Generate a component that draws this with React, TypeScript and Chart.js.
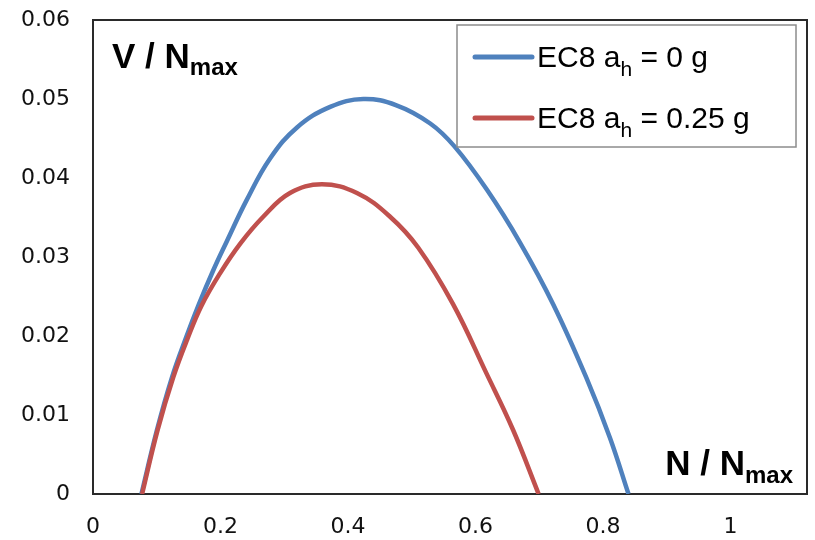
import React, { useEffect, useRef } from "react";
import { Chart, registerables } from "chart.js";

Chart.register(...registerables);

// ---- data ----
const seriesNames = ["EC8 a_h = 0 g", "EC8 a_h = 0.25 g"];
const legendMain = ["EC8 a", "EC8 a"];
const legendSub = ["h", "h"];
const legendTail = [" = 0 g", " = 0.25 g"];

const blueN = [0.076, 0.1, 0.124, 0.146, 0.166, 0.188, 0.21, 0.241, 0.278, 0.32, 0.372, 0.424, 0.476, 0.529, 0.567, 0.618, 0.67, 0.722, 0.774, 0.811, 0.84];
const blueV = [0, 0.008, 0.0148, 0.0198, 0.024, 0.0282, 0.032, 0.0372, 0.0425, 0.0464, 0.049, 0.05, 0.0492, 0.0469, 0.044, 0.0385, 0.0318, 0.024, 0.0147, 0.0071, 0];

const redN = [0.077, 0.101, 0.126, 0.148, 0.17, 0.199, 0.231, 0.267, 0.309, 0.359, 0.414, 0.466, 0.51, 0.565, 0.617, 0.659, 0.699];
const redV = [0, 0.008, 0.0148, 0.0196, 0.0238, 0.0279, 0.0317, 0.0351, 0.0381, 0.0392, 0.0381, 0.0351, 0.0312, 0.024, 0.0153, 0.0081, 0];

const xMin = 0;
const xMax = 1.12;
const xStep = 0.2;
const yMin = 0;
const yMax = 0.06;
const yStep = 0.01;

const yTitle = ["V / N", "max"];
const xTitle = ["N / N", "max"];

const BLUE = "#4F81BD";
const RED = "#C0504D";

function drawSub(
  ctx: CanvasRenderingContext2D,
  x: number,
  y: number,
  main: string,
  sub: string,
  tail: string,
  fMain: string,
  fSub: string,
  drop: number
) {
  ctx.font = fMain;
  ctx.fillText(main, x, y);
  let cx = x + ctx.measureText(main).width;
  ctx.font = fSub;
  ctx.fillText(sub, cx, y + drop);
  cx += ctx.measureText(sub).width;
  if (tail) {
    ctx.font = fMain;
    ctx.fillText(tail, cx, y);
    cx += ctx.measureText(tail).width;
  }
  return cx;
}

function measureSub(ctx: CanvasRenderingContext2D, main: string, sub: string, fMain: string, fSub: string) {
  ctx.font = fMain;
  const a = ctx.measureText(main).width;
  ctx.font = fSub;
  return a + ctx.measureText(sub).width;
}

const overlayPlugin = {
  id: "overlay",
  beforeDatasetsDraw(chart: any) {
    const { ctx, chartArea: a } = chart;
    ctx.save();
    ctx.strokeStyle = "#2a2a2a";
    ctx.lineWidth = 2;
    ctx.strokeRect(a.left, a.top, a.right - a.left, a.bottom - a.top);
    ctx.restore();
  },
  afterDatasetsDraw(chart: any) {
    const { ctx, chartArea: a } = chart;
    ctx.save();
    ctx.fillStyle = "#000";
    ctx.textBaseline = "alphabetic";
    ctx.textAlign = "left";
    const fB = 'bold 35px "Liberation Sans", Arial, sans-serif';
    const fBs = 'bold 24px "Liberation Sans", Arial, sans-serif';
    // y title, top-left inside plot
    drawSub(ctx, a.left + 19, a.top + 48, yTitle[0], yTitle[1], "", fB, fBs, 7);
    // x title, bottom-right inside plot
    const w = measureSub(ctx, xTitle[0], xTitle[1], fB, fBs);
    drawSub(ctx, a.right - 14 - w, a.bottom - 19, xTitle[0], xTitle[1], "", fB, fBs, 8);

    // legend
    const lx = a.right - 350;
    const ly = a.top + 5;
    const lw = 339;
    const lh = 122;
    ctx.fillStyle = "#fff";
    ctx.fillRect(lx, ly, lw, lh);
    ctx.strokeStyle = "#8c8c8c";
    ctx.lineWidth = 1.5;
    ctx.strokeRect(lx, ly, lw, lh);
    const colors = chart.data.datasets.map((d: any) => d.borderColor);
    const rows = [32, 93];
    const fL = '30px "Liberation Sans", Arial, sans-serif';
    const fLs = '21px "Liberation Sans", Arial, sans-serif';
    for (let i = 0; i < legendMain.length; i++) {
      const yy = ly + rows[i];
      ctx.strokeStyle = colors[i];
      ctx.lineWidth = 5;
      ctx.lineCap = "round";
      ctx.beginPath();
      ctx.moveTo(lx + 18, yy);
      ctx.lineTo(lx + 75, yy);
      ctx.stroke();
      ctx.fillStyle = "#000";
      drawSub(ctx, lx + 80, yy + 10, legendMain[i], legendSub[i], legendTail[i], fL, fLs, 9);
    }
    ctx.restore();
  },
};

export default function App() {
  const ref = useRef<HTMLCanvasElement | null>(null);
  useEffect(() => {
    if (!ref.current) return;
    const chart = new Chart(ref.current, {
      type: "scatter",
      data: {
        datasets: [
          {
            label: seriesNames[0],
            data: blueN.map((n, i) => ({ x: n, y: blueV[i] })),
            borderColor: BLUE,
            backgroundColor: BLUE,
            borderWidth: 4.5,
            showLine: true,
            pointRadius: 0,
            tension: 0.4,
            order: 1,
          },
          {
            label: seriesNames[1],
            data: redN.map((n, i) => ({ x: n, y: redV[i] })),
            borderColor: RED,
            backgroundColor: RED,
            borderWidth: 4.5,
            showLine: true,
            pointRadius: 0,
            tension: 0.4,
            order: 0,
          },
        ],
      },
      options: {
        animation: false,
        responsive: false,
        maintainAspectRatio: false,
        layout: { padding: { top: 20, right: 8, bottom: 0, left: 0 } },
        plugins: {
          legend: { display: false },
          tooltip: { enabled: false },
        },
        scales: {
          x: {
            type: "linear",
            min: xMin,
            max: xMax,
            grid: { display: false, drawTicks: false },
            border: { display: false },
            ticks: {
              stepSize: xStep,
              includeBounds: false,
              padding: 20,
              color: "#111",
              font: { family: '"DejaVu Sans", sans-serif', size: 22 },
              callback: (v: any) => String(Number(Number(v).toFixed(2))),
            },
            afterFit: (s: any) => {
              s.height = 46;
              s.paddingLeft = 0;
              s.paddingRight = 0;
            },
          },
          y: {
            type: "linear",
            min: yMin,
            max: yMax,
            grid: { display: false, drawTicks: false },
            border: { display: false },
            ticks: {
              stepSize: yStep,
              padding: 23,
              color: "#111",
              font: { family: '"DejaVu Sans", sans-serif', size: 22 },
              callback: (v: any) => String(Number(Number(v).toFixed(2))),
            },
            afterFit: (s: any) => {
              s.width = 93;
              s.paddingTop = 0;
              s.paddingBottom = 0;
            },
          },
        },
      },
      plugins: [overlayPlugin],
    });
    return () => chart.destroy();
  }, []);

  return (
    <div style={{ position: "fixed", left: 0, top: 0, width: 815, height: 540, background: "#fff" }}>
      <canvas ref={ref} width={815} height={540} style={{ display: "block" }} />
    </div>
  );
}
